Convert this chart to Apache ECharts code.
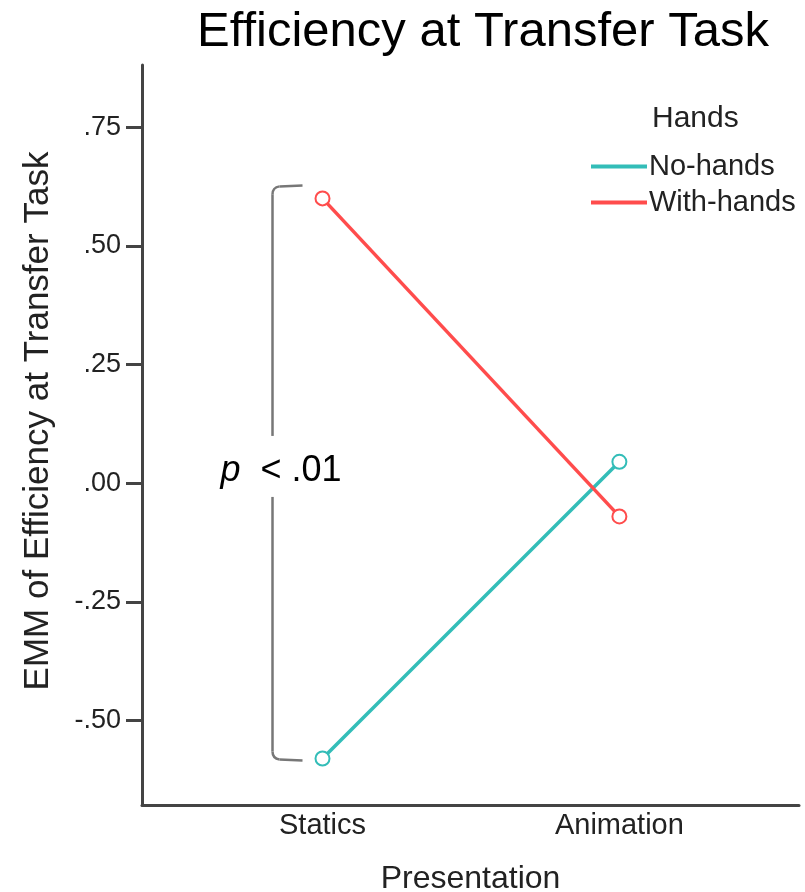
<!DOCTYPE html>
<html>
<head>
<meta charset="utf-8">
<script src="https://cdn.jsdelivr.net/npm/echarts@6/dist/echarts.min.js"></script>
<style>html,body{margin:0;padding:0;background:#fff}#c{width:805px;height:892px}</style>
</head>
<body>
<div id="c"></div>
<script>
var categories = ['Statics', 'Animation'];
var noHands = [-0.58, 0.045];
var withHands = [0.60, -0.07];
var yTicks = [-0.5, -0.25, 0, 0.25, 0.5, 0.75];
var seriesNames = ['No-hands', 'With-hands'];
var colors = ['#33BDB8', '#FF4C4C'];
var FONT = '"Liberation Sans", Arial, sans-serif';

function fmtY(v) {
  var s = Math.abs(v).toFixed(2).replace(/^0/, '');
  return (v < 0 ? '-' : '') + s;
}
function pts(arr) { return arr.map(function (v, i) { return [i + 1, v]; }); }

var chart = echarts.init(document.getElementById('c'));
var option = {
  animation: false,
  backgroundColor: '#fff',
  title: [{
    text: 'Efficiency at Transfer Task',
    left: 478, top: 3, textAlign: 'center',
    textStyle: { fontFamily: FONT, fontSize: 49, fontWeight: 'normal', color: '#000' }
  }, {
    text: 'Hands',
    left: 647, top: 99,
    textStyle: { fontFamily: FONT, fontSize: 30, fontWeight: 'normal', color: '#222' }
  }],
  legend: {
    orient: 'vertical', left: 586, top: 147,
    itemWidth: 56, itemHeight: 4, itemGap: 7,
    icon: 'rect',
    data: seriesNames.map(function (n, i) {
      return { name: n, itemStyle: { color: colors[i], borderWidth: 0 } };
    }),
    textStyle: { fontFamily: FONT, fontSize: 29, color: '#222', padding: [0, 0, 0, -3] }
  },
  grid: { left: 142, top: 65, right: 6, bottom: 87, containLabel: false, outerBoundsMode: 'none' },
  xAxis: {
    type: 'value', min: 0.392, max: 2.605,
    name: 'Presentation', nameLocation: 'middle', nameGap: 58,
    nameTextStyle: { fontFamily: FONT, fontSize: 32, color: '#222' },
    axisLine: { show: true, onZero: false, lineStyle: { color: '#444', width: 3 } },
    axisTick: { show: false },
    splitLine: { show: false },
    axisLabel: {
      customValues: [1, 2], margin: 6,
      formatter: function (v) { return categories[Math.round(v) - 1] || ''; },
      fontFamily: FONT, fontSize: 29, color: '#222'
    }
  },
  yAxis: {
    type: 'value', min: -0.678, max: 0.881,
    name: 'EMM of Efficiency at Transfer Task', nameLocation: 'middle', nameGap: 86,
    nameRotate: 90,
    nameTextStyle: { fontFamily: FONT, fontSize: 35, color: '#222', padding: [0, 0, 0, 28] },
    axisLine: { show: true, onZero: false, lineStyle: { color: '#444', width: 3 } },
    axisTick: { show: true, customValues: yTicks, length: 16, lineStyle: { color: '#444', width: 3 } },
    splitLine: { show: false },
    axisLabel: {
      customValues: yTicks, margin: 21,
      formatter: fmtY,
      fontFamily: FONT, fontSize: 27, color: '#222'
    }
  },
  series: [{
    name: seriesNames[0], type: 'line', data: pts(noHands),
    color: colors[0],
    lineStyle: { width: 3.5, color: colors[0] },
    symbol: 'circle', symbolSize: 14, showSymbol: true,
    itemStyle: { color: '#fff', borderColor: colors[0], borderWidth: 2 },
    z: 3
  }, {
    name: seriesNames[1], type: 'line', data: pts(withHands),
    color: colors[1],
    lineStyle: { width: 3.5, color: colors[1] },
    symbol: 'circle', symbolSize: 14, showSymbol: true,
    itemStyle: { color: '#fff', borderColor: colors[1], borderWidth: 2 },
    z: 4
  }]
};
chart.setOption(option);

// significance bracket annotation, placed from the data through the axes
var pTop = chart.convertToPixel({ gridIndex: 0 }, [1, withHands[0]]);
var pBot = chart.convertToPixel({ gridIndex: 0 }, [1, noHands[0]]);
var bx = pTop[0] - 50, ex = pTop[0] - 20;
var yt = pTop[1] - 13, yb = pBot[1] + 2;
var ym = (yt + yb) / 2 + 6;
var r = 7;
var st = { stroke: '#777', lineWidth: 2.5, fill: null };
chart.setOption({
  graphic: [
    { type: 'line', shape: { x1: ex, y1: yt, x2: bx + r, y2: yt + 1 }, style: st },
    { type: 'bezierCurve', shape: { x1: bx + r, y1: yt + 1, cpx1: bx, cpy1: yt + 2, x2: bx, y2: yt + r + 2 }, style: st },
    { type: 'line', shape: { x1: bx, y1: yt + r + 2, x2: bx, y2: ym - 43 }, style: st },
    { type: 'line', shape: { x1: bx, y1: ym + 18, x2: bx, y2: yb - r - 2 }, style: st },
    { type: 'bezierCurve', shape: { x1: bx, y1: yb - r - 2, cpx1: bx, cpy1: yb - 2, x2: bx + r, y2: yb - 1 }, style: st },
    { type: 'line', shape: { x1: bx + r, y1: yb - 1, x2: ex, y2: yb }, style: st },
    {
      type: 'text', x: bx - 52, y: ym - 8,
      style: {
        text: '{i|p}  < .01',
        rich: { i: { fontStyle: 'italic', fontFamily: FONT, fontSize: 36, fill: '#000' } },
        font: '36px ' + FONT, fill: '#000',
        verticalAlign: 'middle', align: 'left'
      }
    }
  ]
});
</script>
</body>
</html>
